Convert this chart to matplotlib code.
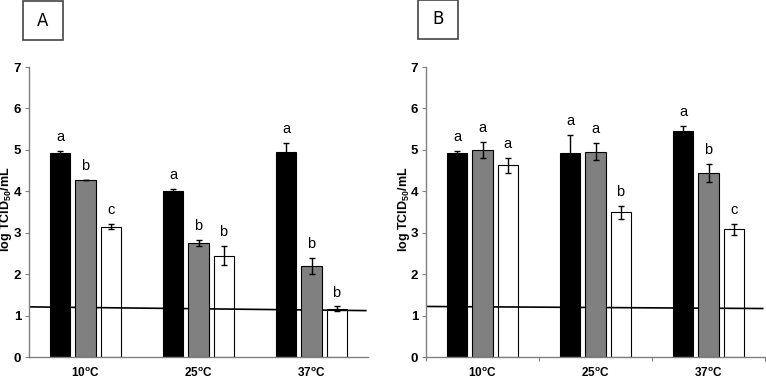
import matplotlib
matplotlib.use("Agg")
import matplotlib.pyplot as plt
import numpy as np
from matplotlib.patches import Rectangle

temps = ["10$^{\\mathregular{o}}$C", "25$^{\\mathregular{o}}$C", "37$^{\\mathregular{o}}$C"]

# Panel A  (series: black, gray, white)
a_black = [4.92, 4.00, 4.95]
a_black_err = [0.05, 0.05, 0.22]
a_gray = [4.28, 2.75, 2.20]
a_gray_err = [0.0, 0.07, 0.19]
a_white = [3.15, 2.45, 1.16]
a_white_err = [0.05, 0.22, 0.06]
a_letters = [["a", "a", "a"], ["b", "b", "b"], ["c", "b", "b"]]
a_limit = [1.21, 1.12]

# Panel B
b_black = [4.92, 4.92, 5.46]
b_black_err = [0.06, 0.43, 0.12]
b_gray = [5.00, 4.96, 4.45]
b_gray_err = [0.20, 0.21, 0.22]
b_white = [4.63, 3.49, 3.08]
b_white_err = [0.18, 0.15, 0.13]
b_letters = [["a", "a", "a"], ["a", "a", "b"], ["a", "b", "c"]]
b_limit = [1.22, 1.17]

yticks = [0, 1, 2, 3, 4, 5, 6, 7]

fig = plt.figure(figsize=(7.66, 3.79), dpi=100)
W, H = 766, 379

letter_font = ["Liberation Sans Narrow", "Liberation Sans", "DejaVu Sans"]
bold_font = ["Liberation Sans Narrow", "Liberation Sans", "DejaVu Sans"]

def panel(left_px, right_px, title, box_px, ylab_px, blacks, berr, grays, gerr, whites, werr,
          letters, limit, xticks_on):
    ax = fig.add_axes([left_px / W, 22 / H, (right_px - left_px) / W, (357 - 67) / H])
    x = np.arange(3) + 0.5
    w = 0.177
    off = 0.222
    ekw = dict(ecolor="black", elinewidth=1, capsize=2.5, capthick=1)
    series = [(blacks, berr, "black", -off), (grays, gerr, "#808080", 0), (whites, werr, "none", off)]
    ax.plot([0, 2.98], limit, color="black", lw=1.2, zorder=1)
    for si, (vals, errs, fc, dx) in enumerate(series):
        ax.bar(x + dx, vals, width=w, color=fc, edgecolor="black", linewidth=0.8, zorder=2,
               yerr=[e if e > 0 else 0 for e in errs], error_kw=ekw)
        for i in range(3):
            top = vals[i] + errs[i]
            ax.annotate(letters[si][i], (x[i] + dx, top), xytext=(0, 5), textcoords="offset points",
                        ha="center", va="bottom", fontsize=10.5, family=letter_font)
    ax.set_xlim(0, 3)
    ax.set_ylim(0, 7)
    ax.set_yticks(yticks)
    ax.set_yticklabels([str(t) for t in yticks], fontweight="bold", fontsize=9.5, family=bold_font)
    if xticks_on:
        ax.set_xticks([0, 1, 2, 3], minor=False)
        ax.set_xticklabels(["", "", "", ""])
        ax.tick_params(axis="x", length=3, color="#808080")
    else:
        ax.set_xticks([])
    for i, t in enumerate(temps):
        ax.annotate(t, (x[i], 0), xytext=(0, -16), textcoords="offset pixels",
                    ha="center", va="center", fontsize=8.5, fontweight="bold", family=bold_font)
    for s in ["top", "right"]:
        ax.spines[s].set_visible(False)
    for s in ["left", "bottom"]:
        ax.spines[s].set_color("#808080")
        ax.spines[s].set_linewidth(1.0)
    ax.tick_params(axis="y", length=3, color="#808080", pad=2.5)
    fig.text(ylab_px / W, 1 - 209 / H, "log TCID$_{\\mathregular{50}}$/mL", rotation=90,
             ha="center", va="center", fontweight="bold", fontsize=9,
             family=["Liberation Sans", "DejaVu Sans"])
    bx0, by0, bx1, by1 = box_px
    fig.patches.append(Rectangle((bx0 / W, 1 - by1 / H), (bx1 - bx0) / W, (by1 - by0) / H,
                                 transform=fig.transFigure, fill=False, edgecolor="#444444", lw=1.2))
    fig.text((bx0 + bx1) / 2 / W, 1 - (by0 + by1) / 2 / H, title, ha="center", va="center",
             fontsize=12, family=["DejaVu Sans"])
    return ax

panel(29, 368, "A", (23, 1, 63, 40), 6.5, a_black, a_black_err, a_gray, a_gray_err, a_white, a_white_err,
      a_letters, a_limit, False)
panel(426, 765, "B", (418, 0, 458, 39), 404, b_black, b_black_err, b_gray, b_gray_err, b_white, b_white_err,
      b_letters, b_limit, True)

fig.savefig("out.png", dpi=100)
